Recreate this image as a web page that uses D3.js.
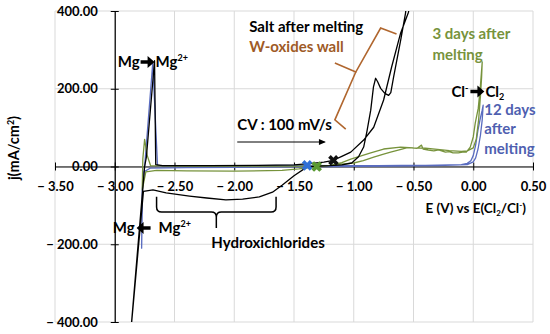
<!DOCTYPE html>
<html>
<head>
<meta charset="utf-8">
<script src="https://cdn.jsdelivr.net/npm/d3@7"></script>
<style>
  body { margin: 0; background: #fff; }
  text { font-family: Lato, "Open Sans", sans-serif; font-weight: bold; }
</style>
</head>
<body>
<svg id="chart" width="550" height="334"></svg>
<script>
// plot area (pixels)
var plotL = 55, plotR = 533, plotT = 11, plotB = 322;

// tick values
var xTicks = [-3.5, -3.0, -2.5, -2.0, -1.5, -1.0, -0.5, 0.0, 0.5];
var yTicks = [-400, -200, 0, 200, 400];

// Salt after melting (black)
var saltE = [-1.17, -1.10, -1.025, -0.917, -0.833, -0.75, -0.683, -0.608, -0.542, -0.52,
  -0.55, -0.567, -0.608, -0.667, -0.69, -0.708, -0.74, -0.775, -0.80, -0.817, -0.835, -0.858,
  -0.89, -0.917, -0.96, -1.017, -1.1, -1.2, -1.3, -1.39, -1.50, -1.60, -1.68, -1.79, -1.93,
  -2.07, -2.23, -2.375, -2.57, -2.68, -2.76, -2.87,
  -2.75, -2.735, -2.667, -2.657, -2.6, -2.2, -1.8, -1.5, -1.35, -1.25, -1.17];
var saltJ = [16, 26, 37, 68, 101, 171, 256, 343, 397, 440,
  440, 394, 324, 229, 190, 183, 188, 201, 218, 227, 205, 145,
  90, 50, 25, 9, 4, 2, 1, -1, -24, -48, -66, -78, -84,
  -86, -81, -76, -68, -60, -64, -440,
  0, 25, 272, 5, 2, 2, 3, 4, 8, 11, 16];

// 3 days after melting (green)
var d3E = [-1.31, -1.2, -1.1, -1.0, -0.92, -0.833, -0.75, -0.692, -0.62, -0.558, -0.517, -0.47,
  -0.433, -0.42, -0.375, -0.33, -0.29, -0.233, -0.2, -0.17, -0.125, -0.09, -0.058, -0.025,
  0.0, 0.017, 0.042, 0.058, 0.068, 0.075, 0.07, 0.06, 0.045, 0.025, 0.0, -0.05, -0.1, -0.2,
  -0.3, -0.4, -0.5, -0.608, -0.75, -0.858, -1.025, -1.1, -1.2, -1.35, -1.46, -1.6, -2.0,
  -2.4, -2.65, -2.74, -2.77, -2.765, -2.75, -2.73, -2.70, -2.4, -1.8, -1.5, -1.31];
var d3J = [0, 3, 6, 9, 15, 24, 32, 37, 43, 48, 48, 47,
  55, 45, 42, 40, 43, 37, 38, 35, 35, 37, 37, 50,
  76, 112, 150, 200, 240, 269, 230, 180, 120, 70, 48, 40, 39, 41,
  44, 47, 48, 50, 45, 35, 19, 10, 3, -2, -6, -10, -12,
  -11, -10, -14, -60, 20, 70, 30, 2, 1, 1, 1, 0];

// 12 days after melting (blue)
var d12E = [-1.39, -1.2, -1.0, -0.8, -0.6, -0.4, -0.2, -0.1, -0.05, -0.02, 0.0, 0.02, 0.04,
  0.06, 0.075, 0.083, 0.075, 0.06, 0.04, 0.02, 0.0, -0.05, -0.3, -0.7, -1.2, -1.6, -2.0,
  -2.4, -2.7, -2.765, -2.775, -2.77, -2.75, -2.682, -2.642, -2.5, -2.0, -1.6, -1.39];
var d12J = [3, 2, 2, 2, 3, 3, 4, 5, 8, 15, 28, 55, 95,
  125, 145, 158, 120, 80, 45, 22, 12, 5, 2, 1, 0, -1, -2,
  -3, -4, -15, -210, -60, 0, 266, 2, 2, 2, 3, 3];

// starting points (X markers)
var startE = [-1.39, -1.31, -1.17];
var startJ = [3, 0, 16];
var startColors = ["#2f6fd6", "#5a9a32", "#111111"];

var svg = d3.select("#chart");

var x = d3.scaleLinear().domain([-3.5, 0.5]).range([plotL, plotR]);
var y = d3.scaleLinear().domain([-400, 400]).range([plotB, plotT]);

// gridlines
var grid = svg.append("g");
grid.selectAll(".vg").data(xTicks).enter().append("line")
    .attr("x1", function(d) { return x(d); })
    .attr("x2", function(d) { return x(d); })
    .attr("y1", plotT).attr("y2", plotB)
    .attr("stroke", "#d9d9d9");
grid.selectAll(".hg").data(yTicks).enter().append("line")
    .attr("x1", plotL).attr("x2", plotR)
    .attr("y1", function(d) { return y(d); })
    .attr("y2", function(d) { return y(d); })
    .attr("stroke", "#d9d9d9");

function fmt(d) {
  return d < 0 ? "\u2212 " + Math.abs(d).toFixed(2) : d.toFixed(2);
}

// x axis at j = 0
var xAxis = svg.append("g")
    .attr("transform", "translate(0," + y(0) + ")")
    .call(d3.axisBottom(x).tickValues(xTicks).tickFormat(fmt).tickSizeInner(4).tickSizeOuter(0).tickPadding(11));
xAxis.selectAll(".tick line").attr("y1", -4).attr("stroke", "#000");
xAxis.select(".domain").attr("stroke", "#000").attr("stroke-width", 1.2);
xAxis.selectAll("text").attr("font-size", "13px").attr("fill", "#000")
    .style("font-family", "Lato, sans-serif").style("font-weight", "bold");

// y axis at E = -3.00
var yAxis = svg.append("g")
    .attr("transform", "translate(" + x(-3.0) + ",0)")
    .call(d3.axisLeft(y).tickValues(yTicks).tickFormat(fmt).tickSizeInner(4).tickSizeOuter(0).tickPadding(13));
yAxis.selectAll(".tick line").attr("x1", 4).attr("stroke", "#000");
yAxis.select(".domain").attr("stroke", "#000").attr("stroke-width", 1.2);
yAxis.selectAll("text").attr("font-size", "13px").attr("fill", "#000")
    .style("font-family", "Lato, sans-serif").style("font-weight", "bold");

// curves
svg.append("clipPath").attr("id", "clip")
  .append("rect").attr("x", plotL).attr("y", plotT)
  .attr("width", plotR - plotL).attr("height", plotB - plotT);

var line = d3.line()
    .x(function(d) { return x(d[0]); })
    .y(function(d) { return y(d[1]); });

function series(E, J, color) {
  svg.append("path")
      .datum(d3.zip(E, J))
      .attr("clip-path", "url(#clip)")
      .attr("fill", "none")
      .attr("stroke", color)
      .attr("stroke-width", 1.3)
      .attr("stroke-linejoin", "round")
      .attr("d", line);
}
series(d12E, d12J, "#5a6cc0");
series(d3E, d3J, "#77933c");
series(saltE, saltJ, "#000000");

svg.selectAll(".start").data(d3.zip(startE, startJ, startColors)).enter().append("path")
    .attr("transform", function(d) { return "translate(" + x(d[0]) + "," + y(d[1]) + ") rotate(45)"; })
    .attr("d", d3.symbol(d3.symbolCross, 70))
    .attr("fill", function(d) { return d[2]; });

// annotations
var ann = svg.append("g");
var fs = 15;

function label(E, J, txt, color) {
  return ann.append("text").attr("x", x(E)).attr("y", y(J))
      .attr("font-size", fs + "px").attr("fill", color || "#000").text(txt);
}

function chem(t, p) {
  t.append("tspan").text(p[0]);
  if (p[1]) {
    var dy = p[2] === "sub" ? 3 : -6;
    t.append("tspan").attr("font-size", "9px").attr("dy", dy).text(p[1]);
  }
}

function fatArrow(a0, a1, cy, dir) {
  var s = dir === "left" ? -1 : 1;
  var tip = dir === "left" ? a0 : a1, tail = dir === "left" ? a1 : a0;
  var hb = tip - s * 7;
  ann.append("path")
      .attr("d", "M" + tail + "," + (cy - 1.7) + "L" + hb + "," + (cy - 1.7) + "L" + hb + "," + (cy - 6) +
        "L" + tip + "," + cy + "L" + hb + "," + (cy + 6) + "L" + hb + "," + (cy + 1.7) +
        "L" + tail + "," + (cy + 1.7) + "Z")
      .attr("fill", "#000");
}

function reaction(E, J, a, b, dir, gap1, gap2) {
  var gx = x(E), gy = y(J);
  var t1 = ann.append("text").attr("x", gx).attr("y", gy).attr("font-size", fs + "px");
  chem(t1, a);
  var w = t1.node().getComputedTextLength();
  var a0 = gx + w + gap1, a1 = a0 + 14;
  fatArrow(a0, a1, gy - 5, dir);
  var t2 = ann.append("text").attr("x", a1 + gap2).attr("y", gy).attr("font-size", fs + "px");
  chem(t2, b);
}

reaction(-2.975, 256, ["Mg"], ["Mg", "2+"], "right", 1, 1);
reaction(-3.017, -171, ["Mg"], ["Mg", "2+"], "left", 2, 8);
reaction(-0.183, 180, ["Cl", "-"], ["Cl", "2", "sub"], "right", 2, 1);

label(-1.875, 346, "Salt after melting");
label(-1.875, 295, "W-oxides wall", "#9e5a26");
label(-1.975, 94, "CV : 100 mV/s");
label(-0.342, 328, "3 days after", "#77933c");
label(-0.342, 274, "melting", "#77933c");
label(0.092, 133, "12 days", "#4f5fb0");
label(0.092, 83, "after", "#4f5fb0");
label(0.092, 33, "melting", "#4f5fb0");
label(-2.192, -210, "Hydroxichlorides");

// scan direction arrow
ann.append("line")
    .attr("x1", x(-1.975)).attr("x2", x(-1.245))
    .attr("y1", y(63)).attr("y2", y(63))
    .attr("stroke", "#000").attr("stroke-width", 1);
ann.append("path")
    .attr("d", "M" + x(-1.233) + "," + y(63) + "l-7,-3l0,6z")
    .attr("fill", "#000");

// W-oxides bracket
var brownE = [-0.642, -0.775, -0.983, -1.158];
var brownJ = [341, 356, 243, 266];
var brownE2 = [-0.983, -1.158, -1.067];
var brownJ2 = [243, 120, 96];
[[brownE, brownJ], [brownE2, brownJ2]].forEach(function(b) {
  ann.append("path").datum(d3.zip(b[0], b[1]))
      .attr("d", line).attr("fill", "none")
      .attr("stroke", "#b0662e").attr("stroke-width", 1.6);
});

// hydroxichlorides brace
var bx0 = x(-2.65), bxm = x(-2.15), bx1 = x(-1.65);
var by0 = y(-78), bym = y(-117), byt = y(-158);
ann.append("path")
    .attr("d", "M" + bx0 + "," + by0 + "L" + bx0 + "," + (bym - 5) + "Q" + bx0 + "," + bym + " " + (bx0 + 5) + "," + bym +
      "L" + (bxm - 5) + "," + bym + "Q" + bxm + "," + bym + " " + bxm + "," + (bym + 5) + "L" + bxm + "," + byt +
      "M" + bxm + "," + (bym + 5) + "Q" + bxm + "," + bym + " " + (bxm + 5) + "," + bym +
      "L" + (bx1 - 5) + "," + bym + "Q" + bx1 + "," + bym + " " + bx1 + "," + (bym - 5) + "L" + bx1 + "," + by0)
    .attr("fill", "none").attr("stroke", "#000").attr("stroke-width", 1.5);

// axis titles
var xt = svg.append("text").attr("x", x(-0.40)).attr("y", 213).attr("font-size", "13.5px");
xt.append("tspan").text("E (V) vs E(Cl");
xt.append("tspan").attr("font-size", "8px").attr("dy", 3).text("2");
xt.append("tspan").attr("dy", -3).text("/Cl");
xt.append("tspan").attr("font-size", "8px").attr("dy", -5).text("-");
xt.append("tspan").attr("dy", 5).text(")");

var yt = svg.append("text").attr("transform", "translate(19,148) rotate(-90)")
    .attr("text-anchor", "middle").attr("font-size", "14.5px");
yt.append("tspan").text("j(mA/cm");
yt.append("tspan").attr("font-size", "9px").attr("dy", -5).text("2");
yt.append("tspan").attr("dy", 5).text(")");
</script>
</body>
</html>
